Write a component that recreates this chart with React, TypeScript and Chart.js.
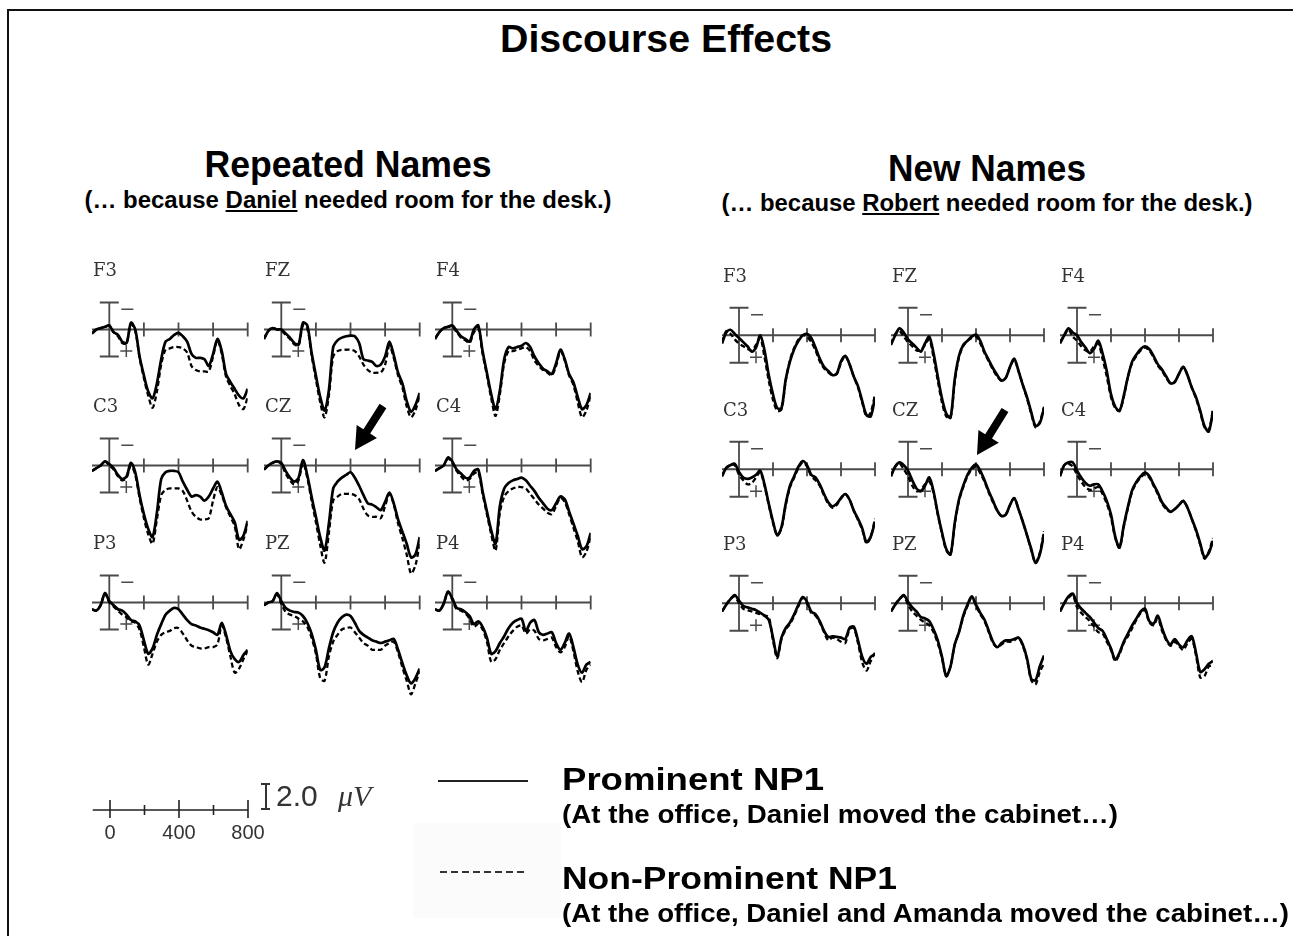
import React, { useEffect, useRef } from "react";
import { Chart, registerables } from "chart.js";

Chart.register(...registerables);

// ---------- DATA ----------
const TIMES = [-100, -75, -50, -25, 0, 25, 50, 75, 100, 125, 150, 175, 200, 225, 250, 275, 300, 325, 350, 375, 400, 425, 450, 475, 500, 525, 550, 575, 600, 625, 650, 675, 700, 725, 750, 775, 800];
const AXIS_TICKS_MS = [0, 200, 400, 600, 800];
const SCALE_LABELS_MS = [0, 400, 800];
const ELECTRODES = ["F3", "FZ", "F4", "C3", "CZ", "C4", "P3", "PZ", "P4"];

// Repeated Names — Prominent (solid) / Non-Prominent (dashed), µV (positive plotted down)
const REP_F3_PROM = [0.3, 0.0, -0.1, -0.2, -0.3, 0.2, 0.4, 0.9, 1.0, -0.5, 0.0, 2.0, 3.4, 4.6, 5.1, 4.0, 2.2, 0.9, 0.7, 0.4, 0.25, 0.5, 0.9, 1.8, 2.1, 2.1, 2.2, 2.7, 1.8, 0.7, 1.6, 3.3, 3.9, 4.4, 4.9, 5.1, 4.4];
const REP_F3_NON = [0.3, 0.0, -0.1, -0.2, -0.3, 0.2, 0.5, 1.0, 1.0, -0.4, 0.1, 2.1, 3.6, 4.9, 5.8, 4.6, 2.6, 1.5, 1.4, 1.3, 1.3, 1.4, 1.7, 2.7, 3.0, 3.1, 3.1, 3.1, 2.0, 0.8, 1.8, 3.5, 4.2, 4.8, 5.6, 5.9, 5.0];
const REP_FZ_PROM = [0.7, 0.1, -0.1, 0.0, 0.0, 0.3, 0.6, 1.0, 1.1, -0.5, -0.3, 1.7, 3.4, 5.0, 6.0, 4.5, 1.3, 0.8, 0.6, 0.5, 0.45, 0.5, 1.0, 2.2, 2.3, 2.4, 2.7, 2.6, 2.0, 0.9, 1.9, 3.2, 4.0, 5.3, 6.1, 5.6, 4.7];
const REP_FZ_NON = [0.7, 0.1, -0.1, 0.0, 0.1, 0.4, 0.7, 1.1, 1.2, -0.3, -0.1, 1.9, 3.7, 5.4, 6.5, 4.9, 2.0, 1.6, 1.5, 1.5, 1.5, 1.6, 2.0, 2.6, 3.0, 3.2, 3.2, 3.2, 2.6, 1.2, 2.1, 3.4, 4.3, 5.7, 6.5, 6.0, 4.9];
const REP_F4_PROM = [0.7, 0.2, -0.1, -0.2, -0.3, 0.1, 0.5, 0.7, 0.9, 0.0, -0.3, 1.6, 3.2, 4.8, 5.9, 4.5, 2.2, 1.3, 1.4, 1.3, 1.2, 1.0, 1.3, 2.0, 2.5, 2.9, 3.1, 3.3, 2.5, 1.5, 2.2, 3.3, 3.9, 5.0, 5.9, 5.6, 4.7];
const REP_F4_NON = [0.7, 0.2, -0.1, -0.2, -0.2, 0.2, 0.6, 0.8, 1.0, 0.2, -0.1, 1.8, 3.4, 5.1, 6.4, 4.8, 2.5, 1.6, 1.6, 1.5, 1.4, 1.3, 1.6, 2.3, 2.7, 3.0, 3.2, 3.4, 2.7, 1.6, 2.3, 3.4, 4.1, 5.4, 6.5, 6.0, 4.9];
const REP_C3_PROM = [0.4, 0.2, 0.0, -0.3, -0.1, 0.2, 0.7, 1.0, 0.8, -0.2, 0.5, 2.2, 3.6, 4.7, 5.3, 3.5, 1.0, 0.5, 0.4, 0.4, 0.5, 1.2, 1.8, 2.3, 2.2, 2.3, 2.6, 2.3, 1.7, 1.2, 2.0, 3.0, 3.6, 4.2, 5.5, 5.2, 4.1];
const REP_C3_NON = [0.4, 0.2, 0.0, -0.3, 0.0, 0.3, 0.8, 1.1, 0.9, 0.0, 0.7, 2.4, 3.9, 5.1, 5.8, 4.0, 2.2, 1.8, 1.7, 1.7, 1.7, 1.9, 2.6, 3.4, 3.8, 4.0, 4.0, 3.9, 2.6, 1.6, 2.2, 3.1, 3.8, 4.5, 6.2, 5.5, 4.3];
const REP_CZ_PROM = [0.3, 0.0, -0.2, -0.3, -0.2, 0.4, 0.9, 1.2, 0.9, -0.4, 0.7, 2.3, 3.8, 5.3, 6.3, 4.3, 1.7, 1.2, 0.9, 0.7, 0.5, 0.9, 1.5, 2.2, 2.8, 2.9, 3.1, 3.3, 2.7, 2.0, 2.8, 4.0, 4.9, 5.8, 6.8, 6.6, 5.3];
const REP_CZ_NON = [0.3, 0.0, -0.2, -0.3, -0.1, 0.6, 1.1, 1.4, 1.1, -0.2, 0.9, 2.6, 4.2, 5.9, 7.2, 5.0, 2.6, 2.3, 2.1, 2.1, 2.1, 2.2, 2.5, 3.2, 3.7, 3.8, 3.8, 3.9, 3.0, 2.1, 2.9, 4.3, 5.4, 6.6, 8.0, 7.4, 5.8];
const REP_C4_PROM = [0.4, 0.2, 0.0, -0.6, -0.3, 0.3, 0.6, 0.9, 0.9, 0.4, 0.3, 1.9, 3.4, 4.8, 5.8, 3.0, 1.7, 1.3, 1.1, 1.0, 0.9, 1.1, 1.5, 1.9, 2.4, 2.8, 3.2, 3.3, 2.8, 2.3, 2.5, 3.4, 4.3, 5.2, 6.2, 6.0, 5.0];
const REP_C4_NON = [0.4, 0.2, 0.0, -0.5, -0.2, 0.4, 0.8, 1.1, 1.0, 0.6, 0.5, 2.1, 3.6, 5.1, 6.3, 3.5, 2.3, 1.9, 1.7, 1.6, 1.6, 1.7, 2.1, 2.5, 2.9, 3.2, 3.5, 3.6, 3.0, 2.4, 2.7, 3.6, 4.6, 5.6, 6.8, 6.4, 5.3];
const REP_P3_PROM = [0.5, 0.6, 0.2, -0.7, -0.1, 0.2, 0.5, 0.6, 0.9, 1.3, 1.4, 1.7, 2.8, 3.8, 3.4, 2.4, 1.6, 0.9, 0.6, 0.4, 0.5, 0.9, 1.3, 1.6, 1.7, 1.85, 1.95, 2.05, 2.2, 2.4, 1.5, 2.4, 3.6, 4.2, 4.4, 3.9, 3.5];
const REP_P3_NON = [0.5, 0.6, 0.2, -0.7, 0.0, 0.3, 0.6, 0.9, 1.1, 1.4, 1.5, 2.0, 3.3, 4.6, 3.8, 2.9, 2.4, 2.2, 2.1, 1.9, 1.9, 2.3, 2.8, 3.2, 3.3, 3.4, 3.4, 3.3, 3.3, 3.1, 1.7, 2.6, 4.0, 5.2, 4.9, 4.2, 3.6];
const REP_PZ_PROM = [0.2, 0.0, -0.1, -0.7, -0.1, 0.4, 0.6, 0.7, 0.75, 1.0, 1.5, 2.3, 3.5, 5.0, 4.8, 3.4, 2.2, 1.5, 1.1, 0.9, 1.0, 1.5, 2.1, 2.4, 2.6, 2.8, 2.9, 3.0, 2.9, 2.8, 2.7, 3.5, 4.5, 5.4, 6.0, 5.6, 4.9];
const REP_PZ_NON = [0.2, 0.0, -0.1, -0.6, 0.1, 0.7, 0.9, 1.0, 1.2, 1.4, 1.8, 2.6, 3.8, 5.6, 5.8, 4.0, 2.9, 2.4, 2.0, 1.9, 1.85, 2.2, 2.6, 3.0, 3.2, 3.5, 3.5, 3.5, 3.2, 3.0, 2.9, 3.7, 4.8, 5.8, 6.8, 6.0, 5.1];
const REP_P4_PROM = [0.5, 0.6, 0.1, -0.8, -0.3, 0.4, 0.5, 0.7, 1.0, 1.6, 1.4, 1.8, 2.6, 3.8, 3.6, 3.0, 2.5, 1.9, 1.5, 1.3, 1.2, 2.1, 1.5, 1.3, 2.2, 2.4, 2.3, 2.2, 3.0, 3.5, 3.0, 2.3, 3.3, 4.6, 5.2, 4.6, 4.4];
const REP_P4_NON = [0.5, 0.6, 0.1, -0.8, -0.2, 0.5, 0.6, 0.8, 1.2, 1.8, 1.6, 2.0, 2.9, 4.4, 4.2, 3.5, 3.0, 2.5, 2.1, 1.8, 1.7, 2.3, 2.0, 2.1, 2.7, 2.8, 2.7, 2.6, 3.3, 3.7, 3.3, 2.5, 3.6, 5.1, 5.9, 5.0, 4.6];

// New Names — Prominent (solid) / Non-Prominent (dashed)
const NEW_F3_PROM = [0.6, -0.2, -0.4, -0.1, 0.2, 0.5, 0.8, 1.2, 0.9, 0.0, 1.1, 2.9, 4.3, 5.3, 5.3, 3.2, 1.9, 1.0, 0.4, 0.0, -0.1, 0.2, 0.9, 1.7, 2.3, 2.6, 2.9, 2.8, 1.9, 1.5, 2.1, 3.0, 3.7, 4.8, 5.8, 5.9, 4.5];
const NEW_F3_NON = [0.5, -0.3, -0.1, 0.3, 0.6, 0.8, 1.0, 1.1, 0.7, 0.2, 1.6, 3.3, 4.7, 5.5, 5.4, 3.3, 1.8, 0.9, 0.3, 0.0, 0.1, 0.5, 1.1, 1.9, 2.4, 2.7, 2.9, 2.8, 2.0, 1.5, 2.1, 3.0, 3.8, 4.9, 5.9, 5.6, 4.3];
const NEW_FZ_PROM = [0.7, 0.0, -0.5, -0.2, 0.3, 0.6, 0.9, 1.2, 0.6, 0.1, 1.3, 3.0, 4.6, 5.7, 6.0, 3.2, 1.5, 0.7, 0.4, 0.1, -0.05, 0.4, 1.2, 1.8, 2.4, 2.9, 3.3, 3.1, 2.3, 1.7, 2.6, 3.6, 4.5, 5.6, 6.6, 6.4, 5.3];
const NEW_FZ_NON = [0.6, -0.1, -0.3, 0.1, 0.5, 0.8, 1.1, 1.1, 0.7, 0.3, 1.6, 3.3, 4.9, 5.9, 6.0, 3.4, 1.6, 0.8, 0.4, 0.2, 0.1, 0.6, 1.3, 1.9, 2.5, 3.0, 3.3, 3.1, 2.3, 1.8, 2.6, 3.6, 4.6, 5.7, 6.7, 6.3, 5.2];
const NEW_F4_PROM = [0.6, 0.0, -0.5, -0.2, 0.0, 0.5, 0.9, 1.3, 1.0, 0.4, 1.3, 2.6, 4.3, 5.2, 5.5, 4.4, 3.0, 1.9, 1.4, 1.0, 0.8, 1.0, 1.5, 2.1, 2.5, 3.0, 3.5, 3.4, 2.8, 2.3, 2.9, 3.8, 4.5, 5.5, 6.6, 7.0, 5.5];
const NEW_F4_NON = [0.5, 0.0, -0.4, 0.1, 0.4, 0.8, 1.1, 1.2, 0.8, 0.6, 1.7, 3.0, 4.5, 5.3, 5.5, 4.5, 3.0, 2.0, 1.5, 1.1, 0.9, 1.1, 1.6, 2.2, 2.6, 3.1, 3.5, 3.4, 2.8, 2.3, 2.9, 3.8, 4.6, 5.6, 6.7, 6.9, 5.4];
const NEW_C3_PROM = [0.5, -0.1, -0.3, -0.4, 0.2, 0.6, 0.7, 0.6, 0.4, 0.1, 1.1, 2.5, 3.8, 4.8, 4.2, 2.5, 1.2, 0.5, -0.2, -0.6, -0.3, 0.4, 0.6, 1.1, 1.8, 2.4, 2.7, 2.5, 2.1, 1.8, 2.2, 3.0, 3.6, 4.3, 5.3, 4.9, 3.8];
const NEW_C3_NON = [0.5, -0.1, -0.3, -0.3, 0.4, 0.8, 1.1, 1.0, 0.6, 0.2, 1.2, 2.6, 3.9, 4.8, 4.3, 2.6, 1.3, 0.6, -0.1, -0.5, -0.2, 0.5, 0.8, 1.2, 1.9, 2.5, 2.8, 2.6, 2.1, 1.8, 2.2, 3.0, 3.7, 4.4, 5.4, 4.9, 3.6];
const NEW_CZ_PROM = [0.5, -0.2, -0.5, -0.3, 0.1, 0.8, 1.4, 1.6, 1.2, 0.6, 1.6, 3.2, 4.6, 5.8, 6.2, 3.9, 2.2, 1.2, 0.4, -0.1, -0.35, 0.1, 0.8, 1.6, 2.3, 3.0, 3.4, 3.3, 2.6, 2.1, 2.9, 3.8, 4.8, 5.8, 6.8, 6.2, 4.7];
const NEW_CZ_NON = [0.5, -0.2, -0.4, 0.0, 0.5, 1.2, 1.6, 1.5, 1.1, 0.9, 1.7, 3.3, 4.7, 5.9, 6.2, 4.0, 2.3, 1.3, 0.5, 0.0, -0.2, 0.3, 0.9, 1.7, 2.4, 3.0, 3.4, 3.3, 2.6, 2.1, 2.9, 3.8, 4.8, 5.9, 6.8, 6.1, 4.5];
const NEW_C4_PROM = [0.5, -0.3, -0.5, -0.5, 0.1, 0.6, 1.0, 1.2, 1.1, 1.1, 1.6, 2.3, 3.3, 4.9, 5.7, 4.1, 2.7, 1.5, 0.9, 0.5, 0.25, 0.5, 1.1, 1.7, 2.4, 2.8, 3.1, 2.9, 2.6, 2.3, 2.8, 3.6, 4.4, 5.4, 6.4, 6.1, 5.2];
const NEW_C4_NON = [0.5, -0.3, -0.4, -0.2, 0.4, 0.9, 1.3, 1.5, 1.4, 1.3, 1.8, 2.5, 3.5, 5.0, 5.7, 4.2, 2.8, 1.6, 1.0, 0.6, 0.35, 0.6, 1.2, 1.8, 2.5, 2.9, 3.1, 2.9, 2.6, 2.3, 2.8, 3.6, 4.5, 5.5, 6.5, 6.0, 5.0];
const NEW_P3_PROM = [0.6, 0.1, -0.3, -0.6, -0.2, 0.2, 0.3, 0.4, 0.5, 0.7, 0.9, 1.2, 2.5, 3.9, 2.5, 1.8, 1.4, 0.8, 0.1, -0.45, -0.1, 0.6, 0.8, 1.3, 2.0, 2.45, 2.4, 2.45, 2.5, 2.6, 1.8, 1.7, 2.7, 3.9, 4.4, 3.9, 3.7];
const NEW_P3_NON = [0.6, 0.1, -0.3, -0.5, 0.0, 0.4, 0.5, 0.6, 0.7, 0.8, 0.9, 1.0, 2.7, 4.0, 2.6, 1.9, 1.5, 0.9, 0.2, -0.4, 0.0, 0.7, 0.9, 1.4, 2.1, 2.7, 2.5, 2.6, 2.8, 2.9, 1.9, 1.8, 2.9, 4.3, 4.9, 4.2, 3.6];
const NEW_PZ_PROM = [0.6, 0.1, -0.3, -0.6, -0.1, 0.3, 0.6, 1.0, 1.1, 1.3, 1.9, 2.7, 3.9, 5.3, 4.6, 3.0, 2.1, 0.9, 0.1, -0.5, 0.1, 0.7, 1.2, 2.0, 2.8, 3.2, 2.9, 2.7, 2.7, 2.6, 2.5, 3.0, 4.0, 5.5, 5.6, 4.6, 3.8];
const NEW_PZ_NON = [0.6, 0.1, -0.3, -0.5, 0.1, 0.6, 0.9, 1.2, 1.4, 1.6, 2.1, 2.9, 4.0, 5.3, 4.6, 3.0, 2.1, 1.0, 0.2, -0.4, 0.2, 0.8, 1.3, 2.1, 2.9, 3.2, 3.0, 2.8, 2.8, 2.7, 2.5, 3.1, 4.1, 5.6, 5.9, 5.0, 4.4];
const NEW_P4_PROM = [0.6, 0.0, -0.5, -0.7, 0.0, 0.4, 0.7, 1.0, 1.4, 1.8, 2.0, 2.6, 3.3, 4.1, 3.6, 2.8, 2.2, 1.6, 1.1, 0.6, 0.4, 1.3, 1.5, 0.9, 1.8, 2.6, 3.0, 2.6, 3.0, 3.2, 2.7, 2.4, 3.6, 5.0, 4.8, 4.4, 4.2];
const NEW_P4_NON = [0.6, 0.0, -0.4, -0.6, 0.3, 0.7, 1.0, 1.3, 1.7, 2.1, 2.2, 2.8, 3.4, 4.2, 3.7, 2.9, 2.4, 1.8, 1.2, 0.7, 0.5, 1.4, 1.6, 1.1, 2.0, 2.7, 3.1, 2.8, 3.1, 3.4, 2.9, 2.6, 3.8, 5.4, 5.3, 4.6, 4.5];

const REP_PROM = [REP_F3_PROM, REP_FZ_PROM, REP_F4_PROM, REP_C3_PROM, REP_CZ_PROM, REP_C4_PROM, REP_P3_PROM, REP_PZ_PROM, REP_P4_PROM];
const REP_NON = [REP_F3_NON, REP_FZ_NON, REP_F4_NON, REP_C3_NON, REP_CZ_NON, REP_C4_NON, REP_P3_NON, REP_PZ_NON, REP_P4_NON];
const NEW_PROM = [NEW_F3_PROM, NEW_FZ_PROM, NEW_F4_PROM, NEW_C3_PROM, NEW_CZ_PROM, NEW_C4_PROM, NEW_P3_PROM, NEW_PZ_PROM, NEW_P4_PROM];
const NEW_NON = [NEW_F3_NON, NEW_FZ_NON, NEW_F4_NON, NEW_C3_NON, NEW_CZ_NON, NEW_C4_NON, NEW_P3_NON, NEW_PZ_NON, NEW_P4_NON];

// ---------- LAYOUT ----------
const X_MIN = -100;
const X_MAX = 800;
const Y_MIN = -3;
const Y_MAX = 9;
const CAL_UV = 2;

const LEFT_PANEL = { cols: [109, 281, 452], rows: [329, 465, 602], pxPer200: 34.6, pxPerUv: 13.5 };
const RIGHT_PANEL = { cols: [739, 908, 1077], rows: [335, 469, 603], pxPer200: 34.0, pxPerUv: 13.75 };

const AXIS_COLOR = "#4a4a4a";

const erpAxesPlugin = {
  id: "erpAxes",
  beforeDatasetsDraw(chart: any) {
    const ctx = chart.ctx as CanvasRenderingContext2D;
    const xs = chart.scales.x;
    const ys = chart.scales.y;
    const y0 = ys.getPixelForValue(0);
    ctx.save();
    ctx.strokeStyle = AXIS_COLOR;
    ctx.lineWidth = 1.8;
    ctx.beginPath();
    ctx.moveTo(xs.getPixelForValue(X_MIN), y0);
    ctx.lineTo(xs.getPixelForValue(X_MAX), y0);
    for (const t of AXIS_TICKS_MS) {
      if (t === 0) continue;
      const x = xs.getPixelForValue(t);
      ctx.moveTo(x, y0 - 7);
      ctx.lineTo(x, y0 + 7);
    }
    const xz = xs.getPixelForValue(0);
    const yt = ys.getPixelForValue(-CAL_UV);
    const yb = ys.getPixelForValue(CAL_UV);
    ctx.moveTo(xz, yt);
    ctx.lineTo(xz, yb);
    ctx.moveTo(xz - 9.5, yt);
    ctx.lineTo(xz + 9.5, yt);
    ctx.moveTo(xz - 9.5, yb);
    ctx.lineTo(xz + 9.5, yb);
    ctx.stroke();
    ctx.lineWidth = 1.5;
    ctx.beginPath();
    const ym = ys.getPixelForValue(-1.5);
    ctx.moveTo(xz + 12, ym);
    ctx.lineTo(xz + 24, ym);
    const yp = ys.getPixelForValue(1.6);
    ctx.moveTo(xz + 11, yp);
    ctx.lineTo(xz + 23, yp);
    ctx.moveTo(xz + 17, yp - 6);
    ctx.lineTo(xz + 17, yp + 6);
    ctx.stroke();
    ctx.restore();
  },
};

type PlotProps = {
  x0: number;
  y0: number;
  pxPer200: number;
  pxPerUv: number;
  prom: number[];
  non: number[];
  label: string;
};

function ErpPlot({ x0, y0, pxPer200, pxPerUv, prom, non, label }: PlotProps) {
  const ref = useRef<HTMLCanvasElement>(null);
  const padL = 25;
  const padT = 12;
  const plotW = ((X_MAX - X_MIN) / 200) * pxPer200;
  const plotH = (Y_MAX - Y_MIN) * pxPerUv;
  const w = Math.ceil(plotW) + 50;
  const h = Math.ceil(plotH) + 24;
  const padR = w - padL - plotW;
  const padB = h - padT - plotH;
  const left = x0 - ((0 - X_MIN) / 200) * pxPer200 - padL;
  const top = y0 - (0 - Y_MIN) * pxPerUv - padT;

  useEffect(() => {
    if (!ref.current) return;
    const chart = new Chart(ref.current, {
      type: "line",
      data: {
        datasets: [
          {
            label: "Prominent NP1",
            data: TIMES.map((t, i) => ({ x: t, y: prom[i] })),
            borderColor: "#000",
            borderWidth: 2.7,
            pointRadius: 0,
            tension: 0.3,
            fill: false,
          },
          {
            label: "Non-Prominent NP1",
            data: TIMES.map((t, i) => ({ x: t, y: non[i] })),
            borderColor: "#000",
            borderWidth: 2.3,
            borderDash: [5, 3],
            pointRadius: 0,
            tension: 0.3,
            fill: false,
          },
        ],
      },
      options: {
        responsive: false,
        animation: false,
        events: [],
        layout: { padding: { left: padL, right: padR, top: padT, bottom: padB } },
        plugins: { legend: { display: false }, tooltip: { enabled: false } },
        scales: {
          x: { type: "linear", min: X_MIN, max: X_MAX, display: false },
          y: { type: "linear", min: Y_MIN, max: Y_MAX, reverse: true, display: false },
        },
      },
      plugins: [erpAxesPlugin],
    } as any);
    return () => chart.destroy();
  }, []);

  return (
    <>
      <canvas
        ref={ref}
        width={w}
        height={h}
        style={{ position: "absolute", left, top, width: w, height: h }}
      />
      <div
        style={{
          position: "absolute",
          left: x0 - 16,
          top: y0 - 70,
          font: '18px "DejaVu Serif"',
          lineHeight: "22px",
          color: "#333",
          whiteSpace: "nowrap",
        }}
      >
        {label}
      </div>
    </>
  );
}

function Panel({ panel, prom, non }: { panel: typeof LEFT_PANEL; prom: number[][]; non: number[][] }) {
  return (
    <>
      {ELECTRODES.map((el, i) => (
        <ErpPlot
          key={el}
          x0={panel.cols[i % 3]}
          y0={panel.rows[Math.floor(i / 3)]}
          pxPer200={panel.pxPer200}
          pxPerUv={panel.pxPerUv}
          prom={prom[i]}
          non={non[i]}
          label={el}
        />
      ))}
    </>
  );
}

const scaleBarPlugin = {
  id: "scaleBar",
  afterDraw(chart: any) {
    const ctx = chart.ctx as CanvasRenderingContext2D;
    const xs = chart.scales.x;
    const y = 20;
    ctx.save();
    ctx.strokeStyle = "#222";
    ctx.lineWidth = 1.6;
    ctx.beginPath();
    ctx.moveTo(xs.getPixelForValue(X_MIN), y);
    ctx.lineTo(xs.getPixelForValue(X_MAX), y);
    for (const t of AXIS_TICKS_MS) {
      const x = xs.getPixelForValue(t);
      const major = SCALE_LABELS_MS.includes(t);
      ctx.moveTo(x, y - (major ? 10 : 5));
      ctx.lineTo(x, y + (major ? 8 : 5));
    }
    ctx.stroke();
    ctx.fillStyle = "#333";
    ctx.font = '20px "Liberation Sans"';
    ctx.textAlign = "center";
    ctx.textBaseline = "middle";
    for (const t of SCALE_LABELS_MS) {
      ctx.fillText(String(t), xs.getPixelForValue(t), y + 23);
    }
    ctx.restore();
  },
};

function ScaleBar() {
  const ref = useRef<HTMLCanvasElement>(null);
  const left = 70;
  const top = 790;
  const w = 230;
  const h = 60;
  const padL = 92.75 - left;
  const plotW = 155.25;
  useEffect(() => {
    if (!ref.current) return;
    const chart = new Chart(ref.current, {
      type: "line",
      data: { datasets: [] },
      options: {
        responsive: false,
        animation: false,
        events: [],
        layout: { padding: { left: padL, right: w - padL - plotW, top: 5, bottom: 5 } },
        plugins: { legend: { display: false }, tooltip: { enabled: false } },
        scales: {
          x: { type: "linear", min: X_MIN, max: X_MAX, display: false },
          y: { type: "linear", min: 0, max: 1, display: false },
        },
      },
      plugins: [scaleBarPlugin],
    } as any);
    return () => chart.destroy();
  }, []);
  return (
    <canvas ref={ref} width={w} height={h} style={{ position: "absolute", left, top, width: w, height: h }} />
  );
}

function arrowPoints(tx: number, ty: number, px: number, py: number) {
  const dx = px - tx;
  const dy = py - ty;
  const len = Math.hypot(dx, dy);
  const ux = dx / len;
  const uy = dy / len;
  const nx = -uy;
  const ny = ux;
  const hl = 22;
  const hx = px - ux * hl;
  const hy = py - uy * hl;
  const sw = 4;
  const hw = 12;
  const pts = [
    [tx + nx * sw, ty + ny * sw],
    [hx + nx * sw, hy + ny * sw],
    [hx + nx * hw, hy + ny * hw],
    [px, py],
    [hx - nx * hw, hy - ny * hw],
    [hx - nx * sw, hy - ny * sw],
    [tx - nx * sw, ty - ny * sw],
  ];
  return pts.map((p) => p.join(",")).join(" ");
}

const BOLD_SANS = '"Liberation Sans", Arial, sans-serif';
let measureCtx: CanvasRenderingContext2D | null = null;
function measureBold(text: string, size: number) {
  if (!measureCtx) measureCtx = document.createElement("canvas").getContext("2d");
  if (!measureCtx) return 1;
  measureCtx.font = `700 ${size}px "Liberation Sans"`;
  return measureCtx.measureText(text).width;
}

type FitProps = {
  plain: string;
  children?: React.ReactNode;
  x: number;
  capCenterY: number;
  size: number;
  width: number;
  center?: boolean;
};

function FitText({ plain, children, x, capCenterY, size, width, center }: FitProps) {
  const natural = measureBold(plain, size);
  const sx = width / natural;
  return (
    <div
      style={{
        position: "absolute",
        left: x,
        top: capCenterY - size * 0.49,
        fontFamily: BOLD_SANS,
        fontWeight: 700,
        fontSize: size,
        lineHeight: `${size}px`,
        color: "#000",
        whiteSpace: "nowrap",
        transformOrigin: center ? "center center" : "left center",
        transform: center ? `translateX(-50%) scaleX(${sx})` : `scaleX(${sx})`,
      }}
    >
      {children ?? plain}
    </div>
  );
}

export default function App() {
  return (
    <div
      style={{
        position: "absolute",
        left: 0,
        top: 0,
        width: 1293,
        height: 936,
        background: "#fff",
        overflow: "hidden",
      }}
    >
      {/* frame */}
      <div style={{ position: "absolute", left: 7, top: 9, width: 1290, height: 0, borderTop: "2px solid #111" }} />
      <div style={{ position: "absolute", left: 7, top: 9, width: 0, height: 930, borderLeft: "2px solid #111" }} />

      <FitText plain="Discourse Effects" x={666} capCenterY={38} size={39} width={332} center />

      <FitText plain="Repeated Names" x={348} capCenterY={165} size={36} width={287} center />
      <FitText
        plain="(… because Daniel needed room for the desk.)"
        x={348}
        capCenterY={200}
        size={23}
        width={527}
        center
      >
        (… because <u>Daniel</u> needed room for the desk.)
      </FitText>
      <FitText plain="New Names" x={987} capCenterY={169} size={36} width={198} center />
      <FitText
        plain="(… because Robert needed room for the desk.)"
        x={987}
        capCenterY={203}
        size={23}
        width={531}
        center
      >
        (… because <u>Robert</u> needed room for the desk.)
      </FitText>

      <Panel panel={LEFT_PANEL} prom={REP_PROM} non={REP_NON} />
      <Panel panel={RIGHT_PANEL} prom={NEW_PROM} non={NEW_NON} />

      {/* very faint backing box behind the lower legend entry */}
      <div style={{ position: "absolute", left: 413, top: 823, width: 148, height: 95, background: "#fbfbfb" }} />

      <svg
        width={1293}
        height={936}
        style={{ position: "absolute", left: 0, top: 0, pointerEvents: "none" }}
      >
        <polygon points={arrowPoints(383, 406, 355, 450)} fill="#000" />
        <polygon points={arrowPoints(1005, 410, 977, 455)} fill="#000" />
        <line x1={438} y1={781} x2={528} y2={781} stroke="#222" strokeWidth={2} />
        <line x1={440} y1={872} x2={528} y2={872} stroke="#333" strokeWidth={2} strokeDasharray="7 4" />
      </svg>

      <ScaleBar />
      <div style={{ position: "absolute", left: 261, top: 783, width: 9, height: 27 }}>
        <div style={{ position: "absolute", left: 3.5, top: 0, width: 2, height: 27, background: "#333" }} />
        <div style={{ position: "absolute", left: 0, top: 0, width: 9, height: 2, background: "#333" }} />
        <div style={{ position: "absolute", left: 0, top: 25, width: 9, height: 2, background: "#333" }} />
      </div>
      <div
        style={{
          position: "absolute",
          left: 276,
          top: 781,
          fontFamily: '"Liberation Sans", sans-serif',
          fontSize: 30,
          lineHeight: "30px",
          color: "#333",
          whiteSpace: "nowrap",
        }}
      >
        2.0
      </div>
      <div
        style={{
          position: "absolute",
          left: 338,
          top: 781,
          fontFamily: '"Liberation Serif", serif',
          fontStyle: "italic",
          fontSize: 30,
          lineHeight: "30px",
          color: "#333",
          whiteSpace: "nowrap",
        }}
      >
        μV
      </div>

      {/* legend text */}
      <FitText plain="Prominent NP1" x={562} capCenterY={779} size={32} width={262} />
      <FitText plain="(At the office, Daniel moved the cabinet…)" x={562} capCenterY={814} size={25} width={556} />
      <FitText plain="Non-Prominent NP1" x={562} capCenterY={878} size={32} width={335} />
      <FitText
        plain="(At the office, Daniel and Amanda moved the cabinet…)"
        x={562}
        capCenterY={913}
        size={25}
        width={728}
      />
    </div>
  );
}
